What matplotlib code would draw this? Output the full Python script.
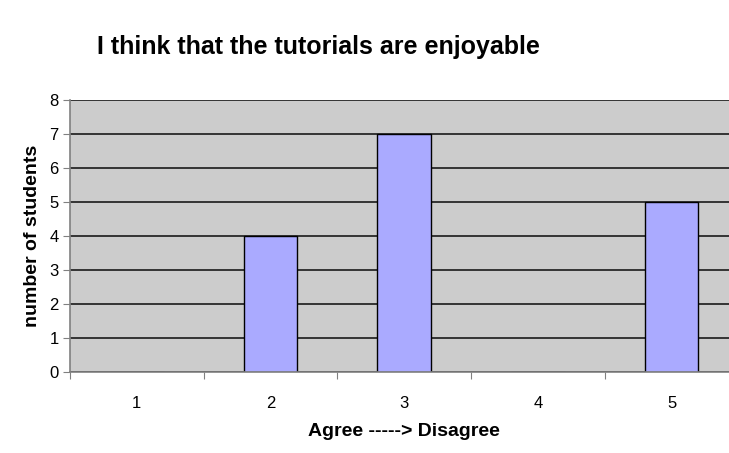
import numpy as np
import matplotlib.pyplot as plt

plt.rcParams['font.family'] = ['Liberation Sans', 'DejaVu Sans']

categories = ['1', '2', '3', '4', '5']
counts = [0, 4, 7, 0, 5]

fig = plt.figure(figsize=(7.29, 4.53), dpi=100)
ax = fig.add_axes([0.096, 0.179, 0.917, 0.600])

x = np.arange(len(categories))
ax.set_facecolor('#cccccc')
ax.bar(x, counts, width=0.4, color='#aaaaff', edgecolor='black', linewidth=1, zorder=3)

ax.set_xlim(-0.5, len(categories) - 0.5)
ax.set_ylim(0, 8)
ax.set_yticks(range(0, 9))
ax.yaxis.grid(True, color='#1a1a1a', linewidth=1.2, zorder=1)
ax.set_axisbelow(True)

# category labels sit between the tick marks
ax.set_xticks(np.arange(len(categories) + 1) - 0.5)
ax.set_xticklabels([])
ax.set_xticks(x, minor=True)
ax.set_xticklabels(categories, minor=True)
ax.tick_params(axis='x', which='minor', length=0, pad=17, labelsize=12)
ax.tick_params(axis='x', which='major', direction='out', length=5, color='#808080')
ax.tick_params(axis='y', direction='out', length=5, color='#808080', labelsize=12, pad=3)

for side in ['top', 'right']:
    ax.spines[side].set_visible(False)
for side in ['left', 'bottom']:
    ax.spines[side].set_color('#808080')
    ax.spines[side].set_linewidth(1.2)
    ax.spines[side].set_zorder(5)

ax.set_xlabel('Agree -----> Disagree', fontsize=14, fontweight='bold', labelpad=9)
ax.set_ylabel('number of students', fontsize=14, fontweight='bold', labelpad=6)
fig.text(0.133, 0.896, 'I think that the tutorials are enjoyable', fontsize=18,
         fontweight='bold', ha='left', va='center')

fig.savefig('out.png', dpi=100)
